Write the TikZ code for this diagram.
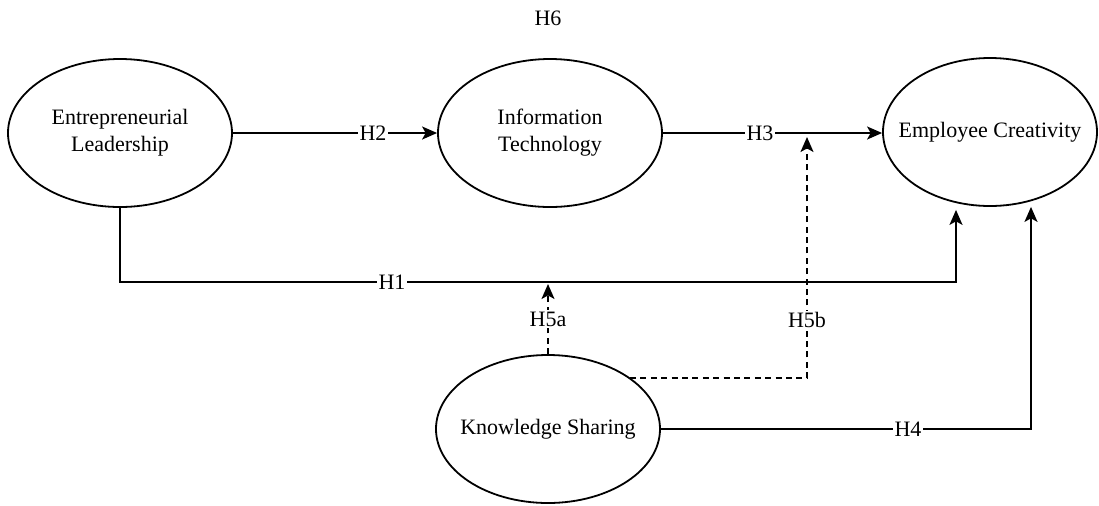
\documentclass[tikz,border=0pt]{standalone}
\usepackage{fontspec}
\setmainfont{Liberation Serif}
\usetikzlibrary{arrows.meta,shapes.geometric}

\tikzset{
  construct/.style={draw=black, ellipse, line width=0.9pt, minimum width=112pt, minimum height=74pt, inner sep=0pt},
  ctext/.style={align=center, inner sep=0pt, font=\fontsize{11}{13.5}\selectfont},
  link/.style={draw=black, line width=0.9pt, -{Stealth[length=7.5pt,width=6.5pt,inset=1.8pt]}},
  modlink/.style={link, dash pattern=on 3pt off 2.2pt},
  hyp/.style={fill=white, inner sep=0.8pt, font=\fontsize{11}{13}\selectfont}
}

\begin{document}
\begin{tikzpicture}[x=0.5pt, y=-0.5pt]
\useasboundingbox (0,0) rectangle (1099,505);
% constructs
\node[construct, label={[ctext]center:{Entrepreneurial\\Leadership}}] (EL) at (120,133) {};
\node[construct, label={[ctext]center:{Information\\Technology}}] (IT) at (550,133) {};
\node[construct, minimum width=107pt, label={[ctext]center:{Employee Creativity}}] (EC) at (990,132) {};
\node[construct, label={[ctext]center:{Knowledge Sharing}}] (KS) at (548,429) {};
\node[ctext] (h6) at (548,18) {H6};
% bends
\coordinate (h1c) at (956,282);
\coordinate (h4c) at (1031,429);
\coordinate (h5bs) at (630,378);
\coordinate (h5bc) at (807,378);
\coordinate (h5bt) at (807,137);
\coordinate (h5at) at (548,284);
% paths
\draw[link] (EL.east) -- (IT.west);
\draw[link] (IT.east) -- (IT.east -| EC.west);
\draw[link] (EL.south) |- (h1c) -- ([yshift=-1.5pt]h1c |- EC.south);
\draw[link] (KS.east) -- (h4c) -- (h4c |- EC.south);
\draw[modlink] (KS.north) -- (h5at);
\draw[modlink] (h5bs) -- (h5bc) -- (h5bt);
% labels
\node[hyp] (h2) at (373,133) {H2};
\node[hyp] (h3) at (760,133) {H3};
\node[hyp] (h1) at (392,282) {H1};
\node[hyp] (h4) at (908,429) {H4};
\node[hyp] (h5a) at (548,319) {H5a};
\node[hyp] (h5b) at (807,320) {H5b};
\end{tikzpicture}
\end{document}
